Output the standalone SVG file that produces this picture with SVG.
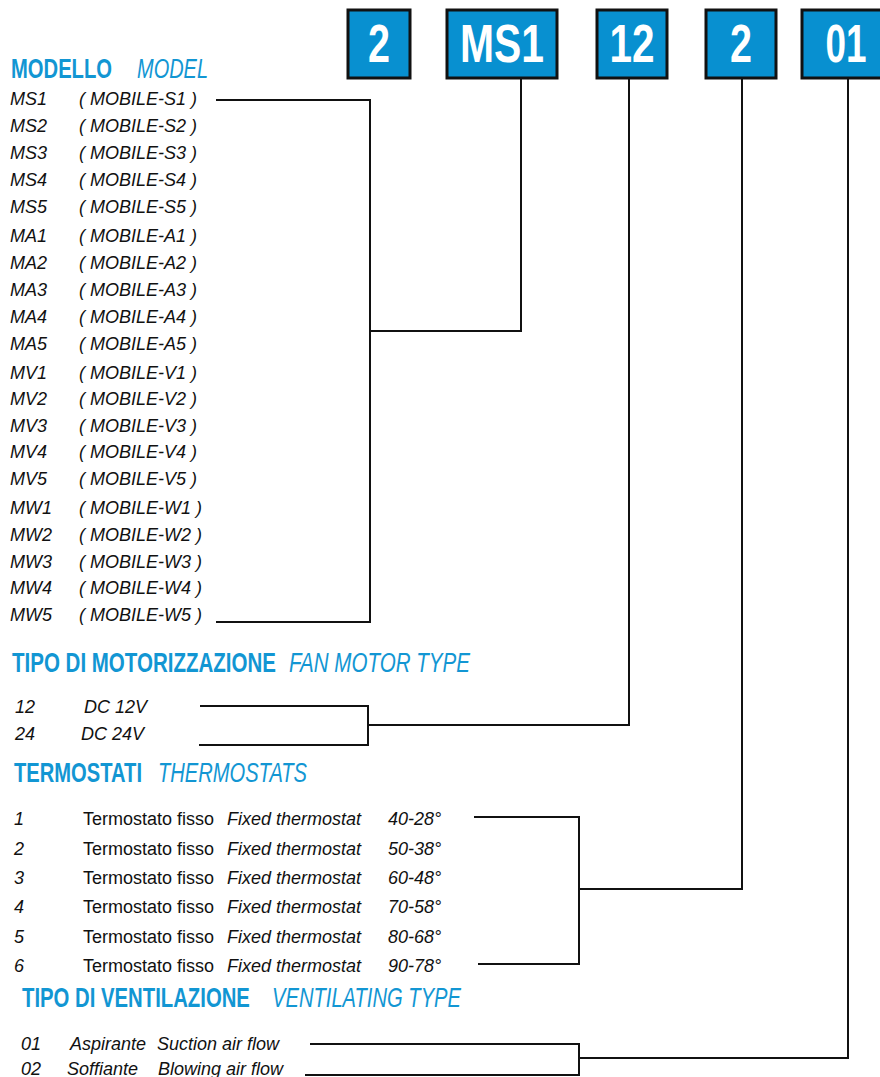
<svg xmlns="http://www.w3.org/2000/svg" width="880" height="1077" viewBox="0 0 880 1077">
<style>
.box{fill:#0890D0;stroke:#111;stroke-width:3}
.bt{font-family:"Liberation Sans",Arial,sans-serif;font-weight:bold;font-size:53px;fill:#fff;text-anchor:middle}
.hb{font-family:"Liberation Sans",Arial,sans-serif;font-weight:bold;font-size:27px;fill:#1296D3}
.hi{font-family:"Liberation Sans",Arial,sans-serif;font-style:italic;font-size:27px;fill:#1296D3}
.t{font-family:"Liberation Sans",Arial,sans-serif;font-style:italic;font-size:18px;fill:#111}
.r{font-family:"Liberation Sans",Arial,sans-serif;font-size:18px;fill:#111}
.c{fill:none;stroke:#111;stroke-width:2}
</style>
<rect width="880" height="1077" fill="#fff"/>
<g id="code-boxes">
<g id="box-2a"><rect class="box" x="348" y="10" width="62" height="68"/><text class="bt" transform="translate(379,62) scale(0.75,1)" textLength="29.3" lengthAdjust="spacingAndGlyphs">2</text></g>
<g id="box-ms1"><rect class="box" x="447" y="10" width="110" height="68"/><text class="bt" transform="translate(502,62) scale(0.75,1)" textLength="112" lengthAdjust="spacingAndGlyphs">MS1</text></g>
<g id="box-12"><rect class="box" x="597" y="10" width="70" height="68"/><text class="bt" transform="translate(632,62) scale(0.75,1)" textLength="60" lengthAdjust="spacingAndGlyphs">12</text></g>
<g id="box-2b"><rect class="box" x="706" y="10" width="70" height="68"/><text class="bt" transform="translate(741,62) scale(0.75,1)" textLength="29.3" lengthAdjust="spacingAndGlyphs">2</text></g>
<g id="box-01"><rect class="box" x="802" y="10" width="90" height="68"/><text class="bt" transform="translate(846,62) scale(0.75,1)" textLength="54.7" lengthAdjust="spacingAndGlyphs">01</text></g>
</g>
<g id="model">
<text class="hb" transform="translate(11,78) scale(0.74,1)" textLength="136.5" lengthAdjust="spacingAndGlyphs">MODELLO</text>
<text class="hi" transform="translate(137,78) scale(0.74,1)" textLength="96" lengthAdjust="spacingAndGlyphs">MODEL</text>
<text class="t" x="10" y="105">MS1</text><text class="t" x="79" y="105">( MOBILE-S1 )</text>
<text class="t" x="10" y="132">MS2</text><text class="t" x="79" y="132">( MOBILE-S2 )</text>
<text class="t" x="10" y="159">MS3</text><text class="t" x="79" y="159">( MOBILE-S3 )</text>
<text class="t" x="10" y="186">MS4</text><text class="t" x="79" y="186">( MOBILE-S4 )</text>
<text class="t" x="10" y="213">MS5</text><text class="t" x="79" y="213">( MOBILE-S5 )</text>
<text class="t" x="10" y="242">MA1</text><text class="t" x="79" y="242">( MOBILE-A1 )</text>
<text class="t" x="10" y="269">MA2</text><text class="t" x="79" y="269">( MOBILE-A2 )</text>
<text class="t" x="10" y="296">MA3</text><text class="t" x="79" y="296">( MOBILE-A3 )</text>
<text class="t" x="10" y="323">MA4</text><text class="t" x="79" y="323">( MOBILE-A4 )</text>
<text class="t" x="10" y="350">MA5</text><text class="t" x="79" y="350">( MOBILE-A5 )</text>
<text class="t" x="10" y="379">MV1</text><text class="t" x="79" y="379">( MOBILE-V1 )</text>
<text class="t" x="10" y="405">MV2</text><text class="t" x="79" y="405">( MOBILE-V2 )</text>
<text class="t" x="10" y="432">MV3</text><text class="t" x="79" y="432">( MOBILE-V3 )</text>
<text class="t" x="10" y="458">MV4</text><text class="t" x="79" y="458">( MOBILE-V4 )</text>
<text class="t" x="10" y="485">MV5</text><text class="t" x="79" y="485">( MOBILE-V5 )</text>
<text class="t" x="10" y="514">MW1</text><text class="t" x="79" y="514">( MOBILE-W1 )</text>
<text class="t" x="10" y="541">MW2</text><text class="t" x="79" y="541">( MOBILE-W2 )</text>
<text class="t" x="10" y="568">MW3</text><text class="t" x="79" y="568">( MOBILE-W3 )</text>
<text class="t" x="10" y="594">MW4</text><text class="t" x="79" y="594">( MOBILE-W4 )</text>
<text class="t" x="10" y="621">MW5</text><text class="t" x="79" y="621">( MOBILE-W5 )</text>
</g>
<g id="motor">
<text class="hb" transform="translate(12,672) scale(0.74,1)" textLength="356.8" lengthAdjust="spacingAndGlyphs">TIPO DI MOTORIZZAZIONE</text>
<text class="hi" transform="translate(289,672) scale(0.74,1)" textLength="244.6" lengthAdjust="spacingAndGlyphs">FAN MOTOR TYPE</text>
<text class="t" x="15" y="713">12</text><text class="t" x="84" y="713">DC 12V</text>
<text class="t" x="15" y="740">24</text><text class="t" x="81" y="740">DC 24V</text>
</g>
<g id="thermostats">
<text class="hb" transform="translate(14,782) scale(0.74,1)" textLength="173" lengthAdjust="spacingAndGlyphs">TERMOSTATI</text>
<text class="hi" transform="translate(158,782) scale(0.74,1)" textLength="201.4" lengthAdjust="spacingAndGlyphs">THERMOSTATS</text>
<text class="t" x="14" y="825">1</text><text class="r" x="83" y="825">Termostato fisso</text><text class="t" x="227" y="825">Fixed thermostat</text><text class="t" x="388" y="825">40-28°</text>
<text class="t" x="14" y="855">2</text><text class="r" x="83" y="855">Termostato fisso</text><text class="t" x="227" y="855">Fixed thermostat</text><text class="t" x="388" y="855">50-38°</text>
<text class="t" x="14" y="884">3</text><text class="r" x="83" y="884">Termostato fisso</text><text class="t" x="227" y="884">Fixed thermostat</text><text class="t" x="388" y="884">60-48°</text>
<text class="t" x="14" y="913">4</text><text class="r" x="83" y="913">Termostato fisso</text><text class="t" x="227" y="913">Fixed thermostat</text><text class="t" x="388" y="913">70-58°</text>
<text class="t" x="14" y="943">5</text><text class="r" x="83" y="943">Termostato fisso</text><text class="t" x="227" y="943">Fixed thermostat</text><text class="t" x="388" y="943">80-68°</text>
<text class="t" x="14" y="972">6</text><text class="r" x="83" y="972">Termostato fisso</text><text class="t" x="227" y="972">Fixed thermostat</text><text class="t" x="388" y="972">90-78°</text>
</g>
<g id="ventilation">
<text class="hb" transform="translate(22,1007) scale(0.74,1)" textLength="308" lengthAdjust="spacingAndGlyphs">TIPO DI VENTILAZIONE</text>
<text class="hi" transform="translate(272,1007) scale(0.74,1)" textLength="255.4" lengthAdjust="spacingAndGlyphs">VENTILATING TYPE</text>
<text class="t" x="21" y="1050">01</text><text class="t" x="70" y="1050">Aspirante</text><text class="t" x="157" y="1050">Suction air flow</text>
<text class="t" x="21" y="1075">02</text><text class="t" x="67" y="1075">Soffiante</text><text class="t" x="158" y="1075">Blowing air flow</text>
</g>
<g id="connectors">
<polyline class="c" points="216,100 370,100 370,622 216,622"/>
<polyline class="c" points="370,331 521,331 521,78"/>
<polyline class="c" points="200,706 368,706 368,745 199,745"/>
<polyline class="c" points="368,725 629,725 629,78"/>
<polyline class="c" points="474,817 579,817 579,964 478,964"/>
<polyline class="c" points="579,889 742,889 742,78"/>
<polyline class="c" points="310,1044 579,1044 579,1075 305,1075"/>
<polyline class="c" points="579,1058 848,1058 848,78"/>
</g>
</svg>
